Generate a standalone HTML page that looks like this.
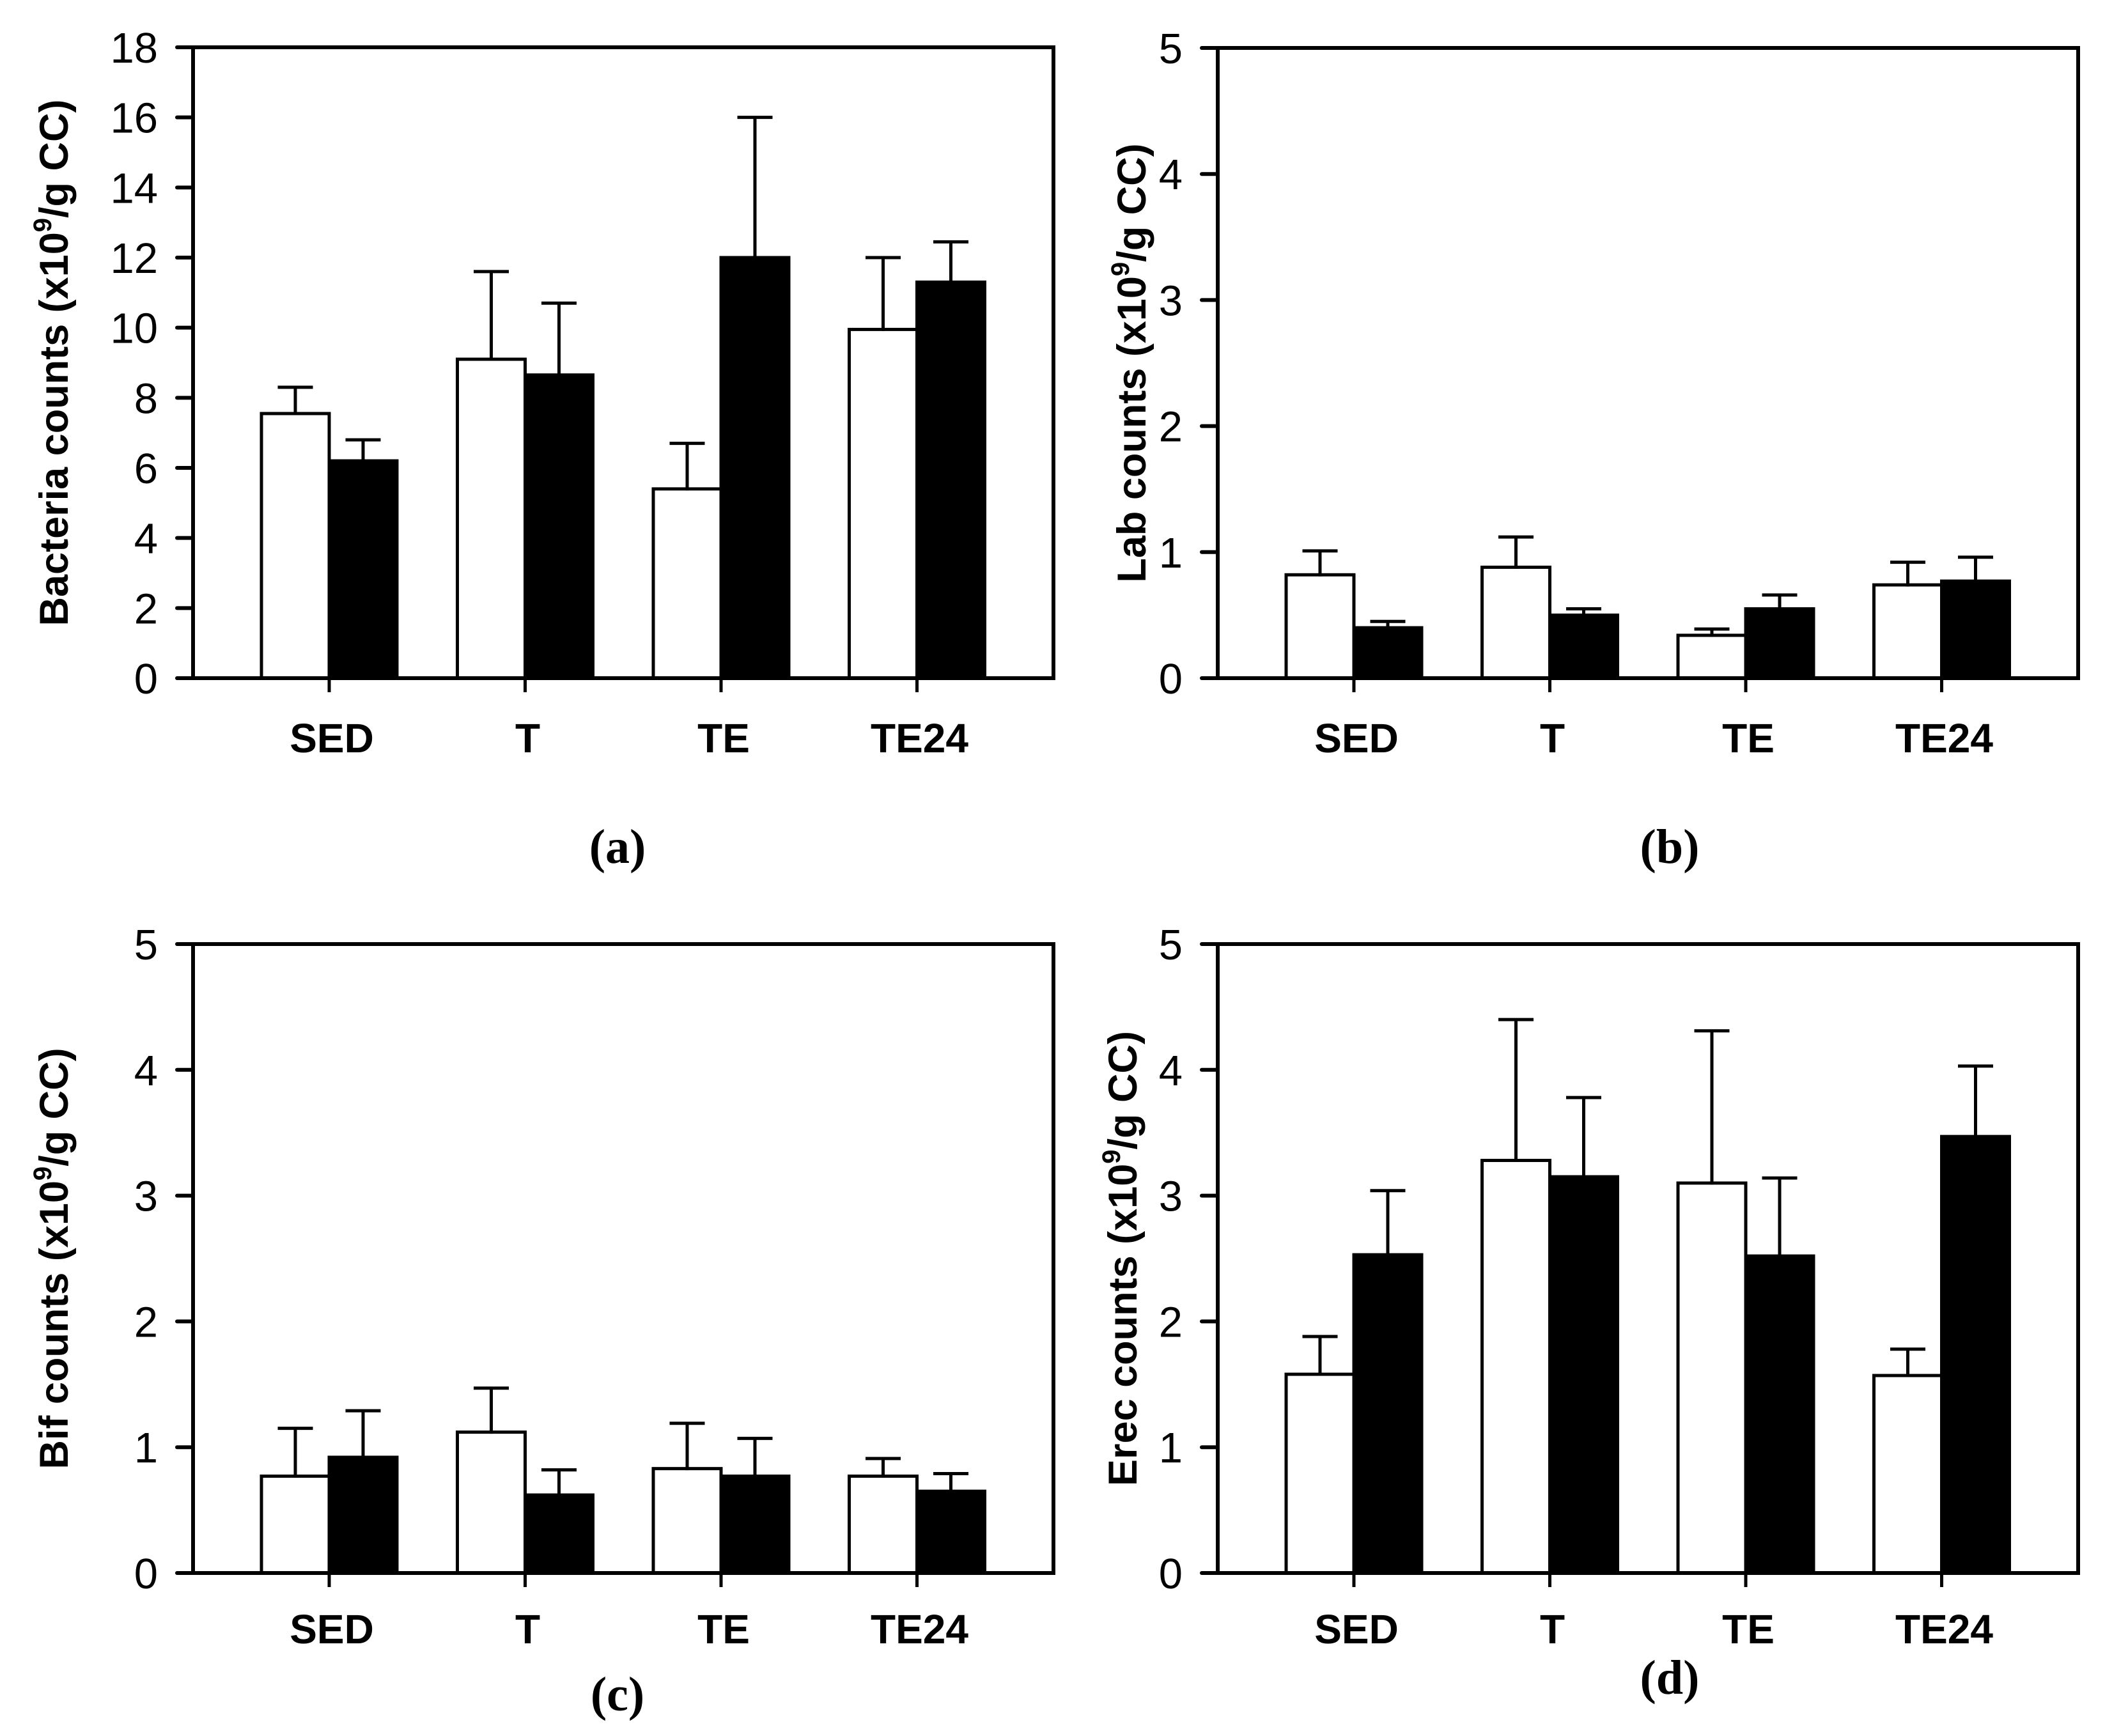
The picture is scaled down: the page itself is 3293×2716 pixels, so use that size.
<!DOCTYPE html>
<html><head><meta charset="utf-8"><style>
html,body{margin:0;padding:0;background:#fff;}
svg{display:block;}
text{font-family:"Liberation Sans",sans-serif;fill:#000;}
</style></head><body>
<svg id="fig" width="3293" height="2716" viewBox="0 0 3293 2716" xmlns="http://www.w3.org/2000/svg"></svg>
<script>
const categories = ["SED","T","TE","TE24"];
const aWhite = [7.55, 9.1, 5.4, 9.95];
const aWhiteErr = [8.3, 11.6, 6.7, 12.0];
const aBlack = [6.2, 8.65, 12.0, 11.3];
const aBlackErr = [6.8, 10.7, 16.0, 12.45];
const aTicks = [0,2,4,6,8,10,12,14,16,18];
const bWhite = [0.82, 0.88, 0.34, 0.74];
const bWhiteErr = [1.01, 1.12, 0.39, 0.92];
const bBlack = [0.40, 0.50, 0.55, 0.77];
const bBlackErr = [0.45, 0.55, 0.66, 0.96];
const cWhite = [0.77, 1.12, 0.83, 0.77];
const cWhiteErr = [1.15, 1.47, 1.19, 0.91];
const cBlack = [0.92, 0.62, 0.77, 0.65];
const cBlackErr = [1.29, 0.82, 1.07, 0.79];
const dWhite = [1.58, 3.28, 3.10, 1.57];
const dWhiteErr = [1.88, 4.40, 4.31, 1.78];
const dBlack = [2.53, 3.15, 2.52, 3.47];
const dBlackErr = [3.04, 3.78, 3.14, 4.03];
const smallTicks = [0,1,2,3,4,5];

const NS="http://www.w3.org/2000/svg";
const svg=document.getElementById('fig');
function mk(tag,attrs,parent){const e=document.createElementNS(NS,tag);for(const k in attrs)e.setAttribute(k,attrs[k]);(parent||svg).appendChild(e);return e;}

function panel(p){
  const g=mk('g',{});
  
  
  const L=p.left,R=p.left+1346,T=p.top,B=p.bottom;
  const ymax=p.ticks[p.ticks.length-1];
  const y=v=>B-(v/ymax)*(B-T);
  const x=i=>L+213+i*306.5;
  const bw=106;
  for(let i=0;i<categories.length;i++){
    const w=mk('rect',{x:x(i)-bw,y:y(p.white[i]),width:bw,height:B-y(p.white[i]),fill:'#fff',stroke:'#000','stroke-width':5},g);
    
    
    const b=mk('rect',{x:x(i),y:y(p.black[i]),width:bw,height:B-y(p.black[i]),fill:'#000',stroke:'#000','stroke-width':5},g);
    
    
    [[x(i)-bw/2,p.white[i],p.whiteErr[i],'white'],[x(i)+bw/2,p.black[i],p.blackErr[i],'black']].forEach(([cx,v,e,n])=>{
      const eg=mk('path',{d:`M${cx},${y(v)}V${y(e)}M${cx-25},${y(e)}H${cx+25}`,stroke:'#000','stroke-width':5,fill:'none','stroke-linecap':'square'},g);
      
      
    });
    const ct=mk('line',{x1:x(i),x2:x(i),y1:B,y2:B+22,stroke:'#000','stroke-width':5},g);
    
    
    const lab=mk('text',{x:x(i)+4,y:B+p.catDy,'text-anchor':'middle','font-size':64,'font-weight':'bold'},g);
    lab.textContent=categories[i];
    
    
  }
  const fr=mk('rect',{x:L,y:T,width:R-L,height:B-T,fill:'none',stroke:'#000','stroke-width':6},g);
  
  
  p.ticks.forEach(t=>{
    const tl=mk('line',{x1:L-25,x2:L,y1:y(t),y2:y(t),stroke:'#000','stroke-width':6,'stroke-linecap':'round'},g);
    
    
    const tx=mk('text',{x:L-55,y:y(t)+24,'text-anchor':'end','font-size':67},g);
    tx.textContent=t;
    
    
  });
  const cy=(T+B)/2;
  const yt=mk('text',{x:0,y:0,'text-anchor':'middle','font-size':63,'font-weight':'bold',transform:`translate(${p.titleX},${cy}) rotate(-90)`},g);
  
  
  yt.innerHTML=p.title+' counts (x10<tspan dy="-26" font-size="40">9</tspan><tspan dy="26">/g CC)</tspan>';
  const pl=mk('text',{x:p.labX,y:p.labY,'text-anchor':'middle','font-size':76,'font-weight':'bold',style:'font-family:"Liberation Serif",serif'},g);
  pl.textContent='('+p.id+')';
  
  
}
panel({id:'a',left:302,top:74,bottom:1061,ticks:aTicks,white:aWhite,whiteErr:aWhiteErr,black:aBlack,blackErr:aBlackErr,title:'Bacteria',titleX:106,catDy:116,labX:966,labY:1350});
panel({id:'b',left:1905,top:75,bottom:1061,ticks:smallTicks,white:bWhite,whiteErr:bWhiteErr,black:bBlack,blackErr:bBlackErr,title:'Lab',titleX:1792,catDy:116,labX:2612,labY:1350});
panel({id:'c',left:302,top:1477,bottom:2461,ticks:smallTicks,white:cWhite,whiteErr:cWhiteErr,black:cBlack,blackErr:cBlackErr,title:'Bif',titleX:106,catDy:110,labX:966,labY:2676});
panel({id:'d',left:1905,top:1477,bottom:2461,ticks:smallTicks,white:dWhite,whiteErr:dWhiteErr,black:dBlack,blackErr:dBlackErr,title:'Erec',titleX:1778,catDy:110,labX:2612,labY:2650});
</script>
</body></html>
